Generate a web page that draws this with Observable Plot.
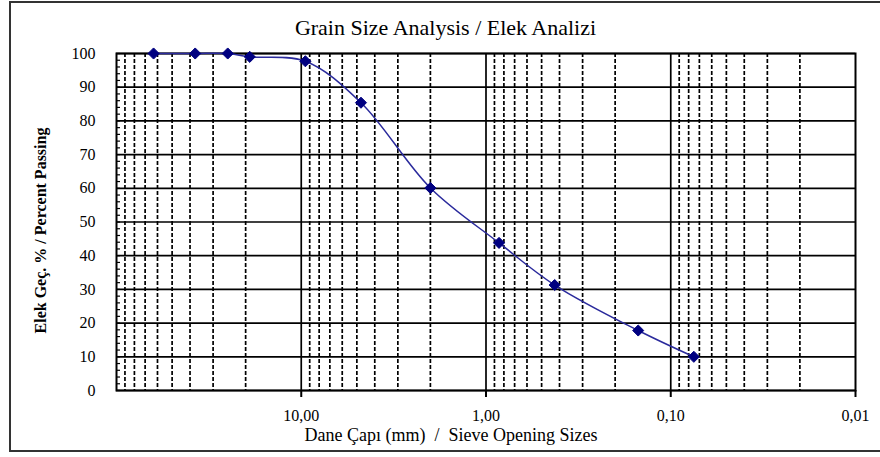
<!DOCTYPE html>
<html>
<head>
<meta charset="utf-8">
<script src="https://cdn.jsdelivr.net/npm/d3@7"></script>
<script src="https://cdn.jsdelivr.net/npm/@observablehq/plot@0.6"></script>
<style>
  html, body { margin: 0; padding: 0; background: #fff; overflow: hidden; }
  #wrap { position: relative; width: 880px; height: 457px; }
  #border { position: absolute; left: 9px; top: 1px; width: 900px; height: 451px;
            border: 2px solid #333; box-sizing: border-box; pointer-events: none; }
</style>
</head>
<body>
<div id="wrap"><div id="chart"></div><div id="border"></div></div>
<script>
// Sieve opening sizes (mm) and percent passing
const sieveSizes = [63, 37.5, 25, 19, 9.5, 4.75, 2, 0.85, 0.425, 0.15, 0.075];
const percentPassing = [100, 100, 100, 99, 97.7, 85.4, 60.1, 43.8, 31.3, 17.8, 10];

const titleText = "Grain Size Analysis / Elek Analizi";
const xLabelText = "Dane Çapı (mm)  /  Sieve Opening Sizes";
const yLabelText = "Elek Geç. % / Percent Passing";

const yTicks = d3.range(0, 101, 10);
const yMinorTicks = d3.range(0, 101, 2);
const xLabelTicks = [10, 1, 0.1, 0.01];
const decadeLines = [10, 1, 0.1];
const minorMultipliers = [2, 3, 4, 5, 6, 7, 8, 9];

const xMinor = [];
for (const d of [10, 1, 0.1, 0.01]) for (const m of minorMultipliers) xMinor.push(d * m);

const data = sieveSizes.map((s, i) => ({size: s, pass: percentPassing[i]}));

const fmt = d => d.toFixed(2).replace(".", ",");

const chart = Plot.plot({
  width: 880,
  height: 457,
  marginLeft: 116,
  marginRight: 25,
  marginTop: 53,
  marginBottom: 67,
  style: {fontFamily: "'Liberation Serif', 'Times New Roman', serif", background: "transparent", color: "#000"},
  x: {type: "log", domain: [100, 0.01]},
  y: {domain: [0, 100]},
  marks: [
    Plot.ruleX(xMinor, {stroke: "#000", strokeWidth: 1.7, strokeDasharray: "4,2"}),
    Plot.ruleX(decadeLines, {stroke: "#000", strokeWidth: 1.7}),
    Plot.ruleY(yTicks, {stroke: "#000", strokeWidth: 1.7}),
    Plot.frame({stroke: "#000", strokeWidth: 2}),
    Plot.axisY({ticks: yTicks, tickSize: 0, tickPadding: 21, fontSize: 16, label: null}),
    Plot.axisY({ticks: yMinorTicks, tickSize: -4, tickFormat: () => "", label: null, strokeWidth: 1.2}),
    Plot.axisX({ticks: xLabelTicks, tickSize: 7, tickPadding: 12, tickFormat: fmt, fontSize: 16, label: null, strokeWidth: 2}),
    Plot.line(data, {x: "size", y: "pass", curve: "catmull-rom", stroke: "#2a2a9c", strokeWidth: 1.5}),
    Plot.dot(data, {x: "size", y: "pass", symbol: "diamond2", r: 5, fill: "#000080", stroke: "#000080", strokeWidth: 1}),
    Plot.text([titleText], {frameAnchor: "top", lineAnchor: "middle", dy: -26, dx: -40.5, fontSize: 22, fill: "#000"}),
    Plot.text([xLabelText], {frameAnchor: "bottom", lineAnchor: "middle", dy: 45, dx: -35, fontSize: 18, fill: "#000", style: {whiteSpace: "pre"}}),
    Plot.text([yLabelText], {frameAnchor: "left", dx: -76, dy: 8.5, rotate: -90, textAnchor: "middle", fontSize: 16, fontWeight: "bold", fill: "#000"})
  ]
});
document.getElementById("chart").appendChild(chart);
</script>
</body>
</html>
